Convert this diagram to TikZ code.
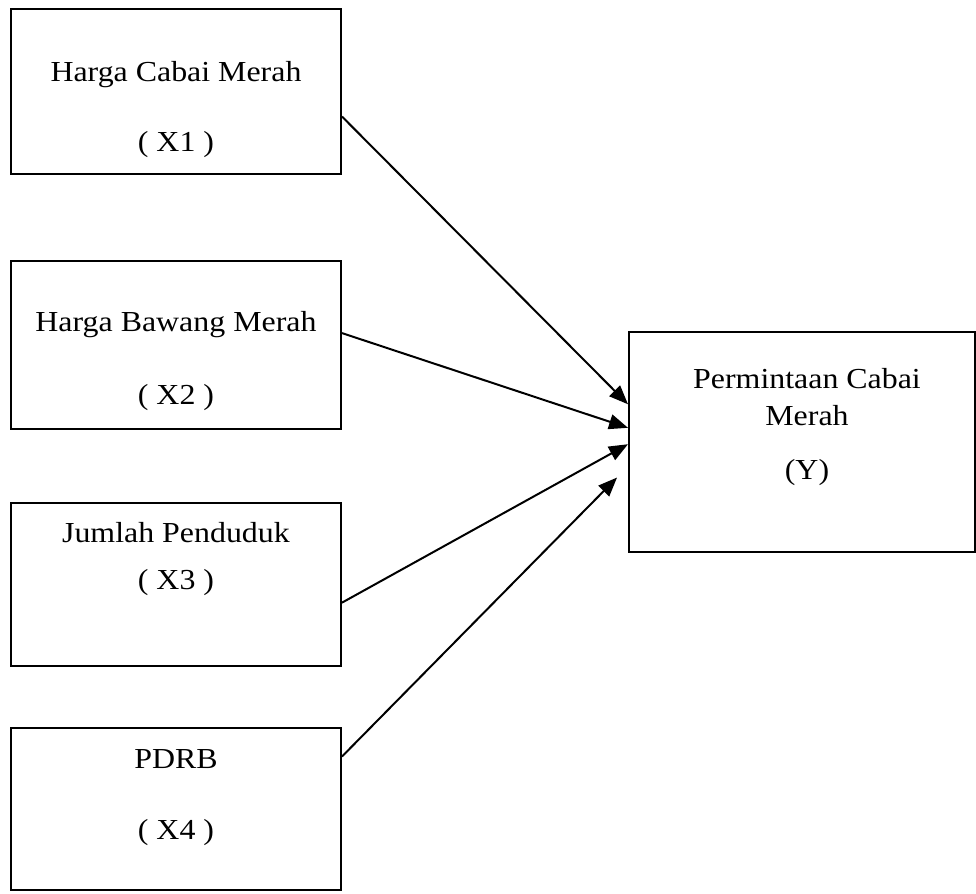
\documentclass[tikz,border=0pt]{standalone}
\usepackage{fontspec}
\setmainfont{Liberation Serif}[FakeStretch=1.1]
\usetikzlibrary{arrows.meta, calc}

\begin{document}
\begin{tikzpicture}[x=0.5pt, y=-0.5pt,
  box/.style={draw, line width=1pt, minimum width=165pt, inner sep=0pt},
  lbl/.style={anchor=base, font=\fontsize{14.5}{18.5}\selectfont, align=center, inner sep=0pt},
  arr/.style={-{Triangle[length=9.5pt, width=7.5pt]}, line width=1pt},
]
\useasboundingbox (0,0) rectangle (976,894);

% Independent variables
\node[box, minimum height=82.5pt] (x1) at (176, 91.5) {};
\node[lbl] (x1name) at (176, 82) {Harga Cabai Merah};
\node[lbl] (x1sym) at (176, 151) {( X1 )};

\node[box, minimum height=84pt] (x2) at (176, 345) {};
\node[lbl] (x2name) at (176, 331) {Harga Bawang Merah};
\node[lbl] (x2sym) at (176, 404) {( X2 )};

\node[box, minimum height=81.5pt] (x3) at (176, 584.5) {};
\node[lbl] (x3name) at (176, 542) {Jumlah Penduduk};
\node[lbl] (x3sym) at (176, 589) {( X3 )};

\node[box, minimum height=81pt] (x4) at (176, 809) {};
\node[lbl] (x4name) at (176, 768) {PDRB};
\node[lbl] (x4sym) at (176, 839) {( X4 )};

% Dependent variable
\node[box, minimum width=173pt, minimum height=110pt] (y) at (802, 442) {};
\node[lbl] (yname) at (807, 425) {Permintaan Cabai\\Merah};
\node[lbl] (ysym) at (807, 479) {(Y)};

% Arrows
\draw[arr] ($(x1.north east)!0.65!(x1.south east)$) -- ($(y.north west)!0.33!(y.south west)$);
\draw[arr] ($(x2.north east)!0.43!(x2.south east)$) -- ($(y.north west)!0.436!(y.south west)$);
\draw[arr] ($(x3.north east)!0.61!(x3.south east)$) -- ($(y.north west)!0.51!(y.south west)$);
\draw[arr, shorten >=7.8pt] ($(x4.north east)!0.18!(x4.south east)$) -- ($(y.north west)!0.61!(y.south west)$);
\end{tikzpicture}
\end{document}
